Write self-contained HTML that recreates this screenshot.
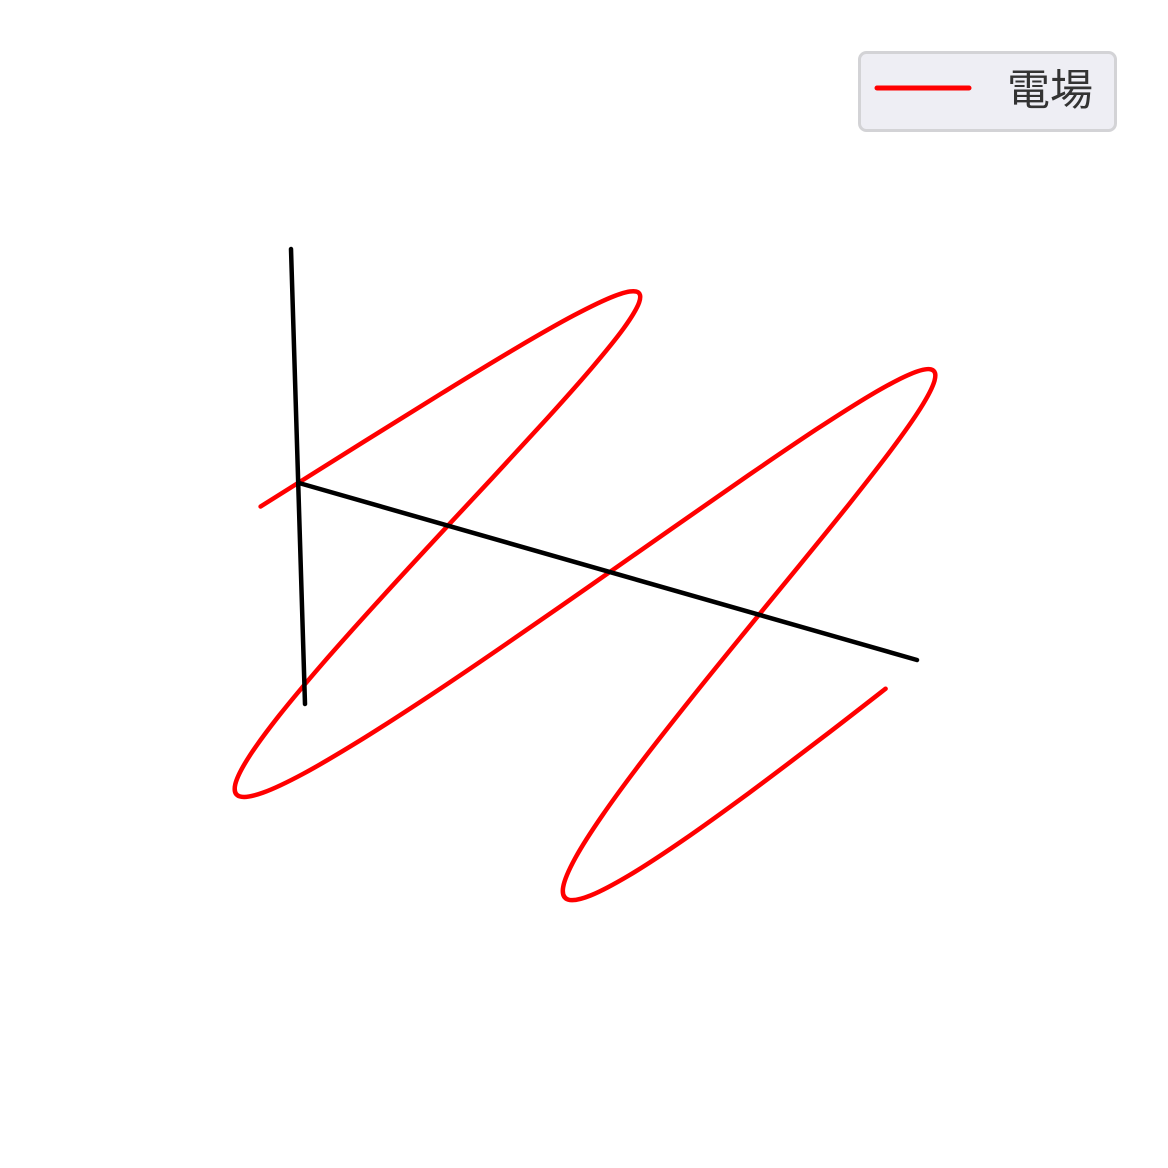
<!DOCTYPE html>
<html><head><meta charset="utf-8">
<style>
html,body{margin:0;padding:0;background:#fff;}
#wrap{position:relative;width:1168px;height:1168px;overflow:hidden;}
</style></head>
<body>
<div id="wrap">
<svg id="chart" width="1168" height="1168" viewBox="0 0 1168 1168" xmlns="http://www.w3.org/2000/svg">
  <g id="series"></g>
  <line x1="291" y1="249" x2="305" y2="704" stroke="#000" stroke-width="4.5" stroke-linecap="round"/>
  <line x1="299" y1="483" x2="917" y2="660" stroke="#000" stroke-width="4.5" stroke-linecap="round"/>
  <g>
    <rect x="859.5" y="52.5" width="256" height="78" rx="7" fill="#eeeef4" stroke="#d3d3d6" stroke-width="3"/>
    <line x1="877" y1="88" x2="969" y2="88" stroke="#ff0000" stroke-width="5" stroke-linecap="round"/>
    <text x="1007" y="105" font-size="43" fill="#333" font-family="'Liberation Sans','Noto Sans CJK JP',sans-serif">電場</text>
  </g>
</svg>
</div>
<script>
// phase samples in units of pi/12
const phaseSteps = [-0.2,1,2,3,4,5,6,7,8,9,10,11,12,13,14,15,16,17,18,19,20,21,22,23,24,25,26,27,28,29,30,31,32,33,34,35,36,37,38,39,40,41,42,43,44,45,46,47,47.8];
// electric field amplitude at each sample
const eValues = [-0.052,0.259,0.5,0.707,0.866,0.966,1,0.966,0.866,0.707,0.5,0.259,0,-0.259,-0.5,-0.707,-0.866,-0.966,-1,-0.966,-0.866,-0.707,-0.5,-0.259,0,0.259,0.5,0.707,0.866,0.966,1,0.966,0.866,0.707,0.5,0.259,0,-0.259,-0.5,-0.707,-0.866,-0.966,-1,-0.966,-0.866,-0.707,-0.5,-0.259,-0.052];

const ORIGIN = {x:278, y:495.6};
const RAD = Math.PI/12;
const UAX = {x:49.6, y:14.4};
const VAX = {x:284.6, y:-223.5};
const KX = 0.0094, KY = -0.009;
function projX(s,e){const r=s*RAD;return ORIGIN.x + r*UAX.x + e*VAX.x*(1-KX*r);}
function projY(s,e){const r=s*RAD;return ORIGIN.y + r*UAX.y + e*VAX.y*(1-KY*r);}

const pts = phaseSteps.map((s,i)=>[projX(s,eValues[i]), projY(s,eValues[i])]);
let d = 'M' + pts[0][0].toFixed(1) + ' ' + pts[0][1].toFixed(1);
for (let i=0;i<pts.length-1;i++){
  const p0 = pts[Math.max(0,i-1)], p1 = pts[i], p2 = pts[i+1], p3 = pts[Math.min(pts.length-1,i+2)];
  const c1x = p1[0]+(p2[0]-p0[0])/6, c1y = p1[1]+(p2[1]-p0[1])/6;
  const c2x = p2[0]-(p3[0]-p1[0])/6, c2y = p2[1]-(p3[1]-p1[1])/6;
  d += ' C'+c1x.toFixed(1)+' '+c1y.toFixed(1)+' '+c2x.toFixed(1)+' '+c2y.toFixed(1)+' '+p2[0].toFixed(1)+' '+p2[1].toFixed(1);
}
const path = document.createElementNS('http://www.w3.org/2000/svg','path');
path.setAttribute('d', d);
path.setAttribute('fill','none');
path.setAttribute('stroke','#ff0000');
path.setAttribute('stroke-width','4.5');
path.setAttribute('stroke-linecap','round');
path.setAttribute('stroke-linejoin','round');


document.getElementById('series').appendChild(path);
</script>
</body></html>
